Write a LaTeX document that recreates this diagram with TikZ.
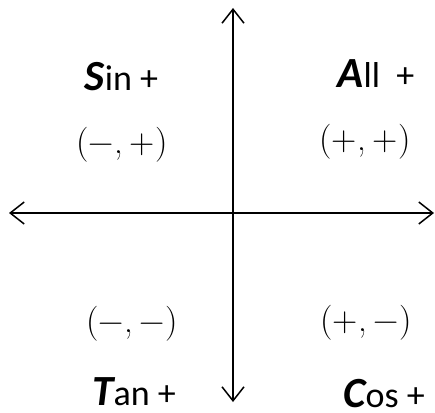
\documentclass[tikz,border=0pt]{standalone}
\usepackage{fontspec}
\setmainfont{Carlito}
\newfontfamily\lmr{Latin Modern Roman}
\usetikzlibrary{arrows.meta}
\tikzset{
  axis/.style={line width=1.5pt, {Straight Barb[length=14pt,width=22pt,line width=1.5pt]}-{Straight Barb[length=14pt,width=22pt,line width=1.5pt]}},
  fn/.style={inner sep=0pt, anchor=base, font=\fontsize{36}{40}\selectfont},
  sgn/.style={inner sep=0pt, anchor=base, text=black, font=\lmr\fontsize{35}{40}\selectfont}
}
\newcommand{\BigL}[1]{{\fontsize{43}{48}\selectfont\bfseries\itshape #1}}
\newcommand{\cm}{,\hspace{0.2em}}
\begin{document}
\begin{tikzpicture}[x=1pt,y=-1pt]
\useasboundingbox (0,0) rectangle (435,412);
\coordinate (top) at (233,8);
\coordinate (bot) at (233,402);
\coordinate (lft) at (9,213);
\coordinate (rgt) at (434,213);
\draw[axis] (bot) -- (top);
\draw[axis] (lft) -- (rgt);
\node[fn] (sin) at (121.5,90) {\BigL{S}in +};
\node[fn] (all) at (376,87) {\BigL{A}ll\ \ +};
\node[fn] (tan) at (134,405) {\BigL{T}an +};
\node[fn] (cos) at (384,407) {\BigL{C}os +};
\node[sgn] (q2) at (122,153) {(−\cm+)};
\node[sgn] (q1) at (365,150) {(+\cm+)};
\node[sgn] (q3) at (132,332) {(−\cm−)};
\node[sgn] (q4) at (366,331) {(+\cm−)};
\end{tikzpicture}
\end{document}
